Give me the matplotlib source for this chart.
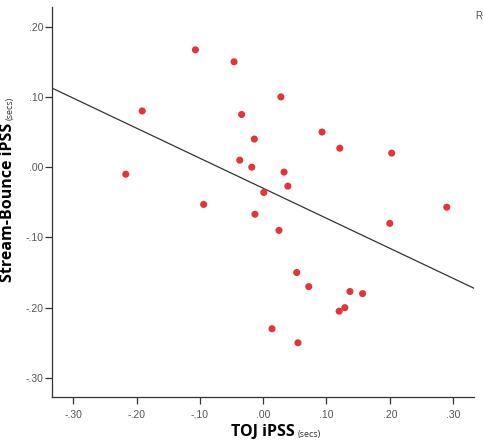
import numpy as np
import matplotlib
matplotlib.use("Agg")
import matplotlib.pyplot as plt

# TOJ iPSS (x) vs Stream-Bounce iPSS (y), in secs
toj = [-0.107, -0.046, 0.028, -0.191, -0.034, 0.093, -0.014, 0.121, 0.203, -0.037,
       -0.018, -0.217, 0.033, 0.039, 0.001, -0.094, 0.290, -0.013, 0.200, 0.025,
       0.053, 0.072, 0.137, 0.157, 0.129, 0.120, 0.014, 0.055]
sb = [0.167, 0.150, 0.100, 0.080, 0.075, 0.050, 0.040, 0.027, 0.020, 0.010,
      0.000, -0.010, -0.007, -0.027, -0.036, -0.053, -0.057, -0.067, -0.080, -0.090,
      -0.150, -0.170, -0.177, -0.180, -0.200, -0.205, -0.230, -0.250]

# fit line as drawn in the figure
fit_intercept = -0.030
fit_slope = -0.4275

xticks = [-0.30, -0.20, -0.10, 0.00, 0.10, 0.20, 0.30]
yticks = [0.20, 0.10, 0.00, -0.10, -0.20, -0.30]


def fmt(v):
    s = "%.2f" % v
    return s.replace("0.", ".")


fig = plt.figure(figsize=(4.83, 4.48), dpi=100)
ax = fig.add_axes([51.7 / 483, 1 - 397.3 / 448, (474 - 51.7) / 483, (397.3 - 7) / 448])

ax.scatter(toj, sb, s=26, color="#e5333b", edgecolors="none", zorder=3)

xlim = (-0.334, 0.333)
xs = np.array(xlim)
ax.plot(xs, fit_intercept + fit_slope * xs, color="#333333", lw=0.9, zorder=2)

ax.set_xlim(*xlim)
ax.set_ylim(-0.3276, 0.228)
ax.set_xticks(xticks)
ax.set_xticklabels([fmt(v) for v in xticks])
ax.set_yticks(yticks)
ax.set_yticklabels([fmt(v) for v in yticks])

for sp in ["top", "right"]:
    ax.spines[sp].set_visible(False)
for sp in ["left", "bottom"]:
    ax.spines[sp].set_color("#333333")
    ax.spines[sp].set_linewidth(0.9)

ax.tick_params(direction="out", length=5, width=0.9, color="#333333",
               labelsize=7.5, labelcolor="#555555")
ax.tick_params(axis="y", pad=1)
ax.tick_params(axis="x", pad=4)
for lab in ax.get_xticklabels() + ax.get_yticklabels():
    lab.set_fontfamily("Liberation Sans")

# axis titles: bold main part, small "(secs)" appended
xl = ax.text(0.5, -0.089, "TOJ iPSS", transform=ax.transAxes, ha="center", va="center",
             fontsize=11.5, fontweight="bold", family="Open Sans")
ax.annotate("(secs)", xy=(1, 0), xycoords=xl, xytext=(2, 1), textcoords="offset points",
            ha="left", va="bottom", fontsize=6.5, color="#333333", family="Open Sans")

yl = ax.text(-0.085, 0.5, "Stream-Bounce iPSS", transform=ax.transAxes, ha="right",
             va="center", rotation=90, fontsize=11.5, fontweight="bold", family="Open Sans")
ax.annotate("(secs)", xy=(1, 1), xycoords=yl, xytext=(-1, 2), textcoords="offset points",
            ha="right", va="bottom", rotation=90, fontsize=6.5, color="#333333",
            family="Open Sans")

fig.text(475 / 483, 1 - 16 / 448, "R\u00b2", fontsize=7, color="#555555",
         family="Liberation Sans", ha="left", va="center")

fig.savefig("out.png", dpi=100)
